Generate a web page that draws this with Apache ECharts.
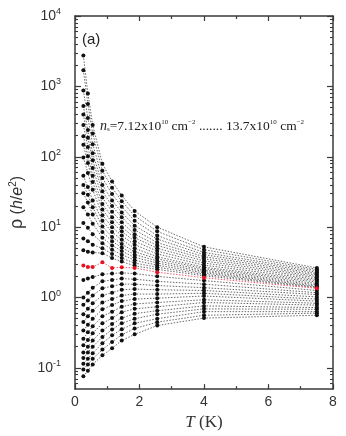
<!DOCTYPE html>
<html>
<head>
<meta charset="utf-8">
<script src="https://cdn.jsdelivr.net/npm/echarts@6/dist/echarts.min.js"></script>
<style>
html,body{margin:0;padding:0;background:#fff;}
#chart{width:346px;height:436px;}
</style>
</head>
<body>
<div id="chart"></div>
<script>
// Temperatures (K) of the measurement columns
const temps = [0.26, 0.4, 0.55, 0.85, 1.15, 1.45, 1.85, 2.55, 4.0, 7.5];

// Resistivity rho (h/e^2) of each density curve at the temperatures above (top = lowest n_s)
const rhoCurves = [
  [2750, 794, 282, 79.4, 44.7, 28.2, 17.0, 10.0, 5.25, 2.63],
  [1700, 562, 214, 63.1, 36.3, 23.4, 14.5, 8.71, 4.79, 2.51],
  [871, 355, 151, 50.1, 29.5, 19.5, 12.3, 7.59, 4.37, 2.40],
  [525, 240, 112, 39.8, 24.0, 16.2, 10.5, 6.76, 4.07, 2.29],
  [398, 186, 89.1, 32.4, 20.0, 13.8, 9.12, 6.03, 3.80, 2.19],
  [282, 138, 69.2, 26.3, 16.6, 11.7, 7.94, 5.50, 3.55, 2.09],
  [195, 102, 53.7, 21.4, 13.8, 10.0, 7.08, 5.01, 3.31, 2.00],
  [148, 81.3, 43.7, 17.8, 11.7, 8.71, 6.31, 4.57, 3.09, 1.91],
  [97.7, 58.9, 33.9, 14.8, 10.0, 7.59, 5.62, 4.17, 2.88, 1.82],
  [53.7, 37.2, 24.0, 12.3, 8.51, 6.61, 5.01, 3.80, 2.69, 1.74],
  [39.8, 28.8, 19.1, 10.2, 7.24, 5.75, 4.47, 3.55, 2.57, 1.66],
  [30.2, 22.4, 15.1, 8.51, 6.31, 5.13, 4.07, 3.31, 2.45, 1.58],
  [19.1, 15.1, 11.2, 7.08, 5.50, 4.57, 3.72, 3.09, 2.34, 1.51],
  [11.5, 9.77, 7.94, 5.89, 4.79, 4.07, 3.39, 2.88, 2.24, 1.45],
  [6.92, 6.31, 5.62, 5.01, 4.17, 3.63, 3.09, 2.69, 2.14, 1.41],
  [4.68, 4.47, 4.37, 4.27, 3.63, 3.24, 2.82, 2.51, 2.04, 1.38],
  [2.85, 2.72, 2.72, 3.16, 2.63, 2.69, 2.63, 2.29, 1.91, 1.35],
  [1.78, 1.86, 1.95, 2.14, 2.19, 2.24, 2.19, 2.00, 1.74, 1.26],
  [1.00, 1.17, 1.38, 1.70, 1.78, 1.86, 1.82, 1.70, 1.55, 1.17],
  [0.79, 0.91, 1.07, 1.35, 1.45, 1.55, 1.55, 1.48, 1.38, 1.10],
  [0.58, 0.69, 0.83, 1.07, 1.17, 1.29, 1.32, 1.29, 1.26, 1.02],
  [0.45, 0.54, 0.65, 0.85, 0.95, 1.07, 1.12, 1.12, 1.15, 0.95],
  [0.34, 0.41, 0.50, 0.68, 0.78, 0.89, 0.95, 0.98, 1.05, 0.89],
  [0.26, 0.32, 0.39, 0.54, 0.63, 0.74, 0.81, 0.85, 0.93, 0.83],
  [0.21, 0.25, 0.31, 0.43, 0.51, 0.62, 0.69, 0.74, 0.85, 0.78],
  [0.166, 0.20, 0.245, 0.34, 0.42, 0.51, 0.59, 0.65, 0.76, 0.72],
  [0.138, 0.166, 0.20, 0.275, 0.35, 0.43, 0.50, 0.58, 0.69, 0.68],
  [0.115, 0.135, 0.162, 0.224, 0.29, 0.355, 0.43, 0.50, 0.63, 0.63],
  [0.095, 0.112, 0.135, 0.182, 0.234, 0.295, 0.363, 0.447, 0.56, 0.60],
  [0.076, 0.091, 0.112, 0.151, 0.19, 0.245, 0.30, 0.40, 0.51, 0.56]
];
// index of the highlighted (red) curve
const redIndex = 16;

// Axis tick values
const yMajorTicks = [0.1, 1, 10, 100, 1000, 10000];
const yMinorTicks = [0.06, 0.07, 0.08, 0.09,
  0.2, 0.3, 0.4, 0.5, 0.6, 0.7, 0.8, 0.9,
  2, 3, 4, 5, 6, 7, 8, 9,
  20, 30, 40, 50, 60, 70, 80, 90,
  200, 300, 400, 500, 600, 700, 800, 900,
  2000, 3000, 4000, 5000, 6000, 7000, 8000, 9000];
const xTickLabels = [0, 2, 4, 6, 8];

const axisColor = '#3a3a3a';
const chart = echarts.init(document.getElementById('chart'), null, {renderer: 'canvas'});

function expLabel(v) {
  const e = Math.round(Math.log10(v));
  return '{b|10}{s|' + e + '}';
}

const series = rhoCurves.map((row, i) => {
  const isRed = i === redIndex;
  return {
    type: 'line',
    xAxisIndex: 0,
    yAxisIndex: 0,
    data: temps.map((t, j) => [t, row[j]]),
    symbol: 'circle',
    symbolSize: 4,
    showSymbol: true,
    silent: true,
    animation: false,
    z: isRed ? 5 : 2,
    lineStyle: {type: [1.5, 1.5], width: 1, color: isRed ? '#f0606a' : '#6a6a6a'},
    itemStyle: {color: isRed ? '#e8101e' : '#111', borderWidth: 0}
  };
});

const option = {
  animation: false,
  backgroundColor: '#fff',
  grid: {left: 68, right: 13, top: 16, bottom: 40, containLabel: false},
  xAxis: [
    {
      type: 'value', position: 'bottom', min: 0, max: 8, interval: 2,
      axisLine: {show: true, lineStyle: {color: axisColor, width: 1.5}},
      axisTick: {show: true, inside: true, length: 5, lineStyle: {color: axisColor, width: 1.2}},
      minorTick: {show: true, splitNumber: 2, length: 3, lineStyle: {color: axisColor, width: 1.2}},
      splitLine: {show: false},
      axisLabel: {
        customValues: xTickLabels,
        margin: 6, fontSize: 14, color: '#333', fontFamily: 'Liberation Sans'
      },
      name: '{i|T} (K)', nameLocation: 'middle', nameGap: 19,
      nameTextStyle: {
        fontFamily: 'Liberation Serif', fontSize: 17, color: '#333',
        rich: {i: {fontFamily: 'Liberation Serif', fontStyle: 'italic', fontSize: 17, color: '#333'}}
      }
    },
    {
      type: 'value', position: 'top', min: 0, max: 8, interval: 2,
      axisLine: {show: true, lineStyle: {color: axisColor, width: 1.5}},
      axisTick: {show: true, inside: true, length: 5, lineStyle: {color: axisColor, width: 1.2}},
      minorTick: {show: true, splitNumber: 2, length: 3, lineStyle: {color: axisColor, width: 1.2}},
      splitLine: {show: false},
      axisLabel: {show: false}
    }
  ],
  yAxis: [
    {
      type: 'log', logBase: 10, position: 'left', min: 0.05, max: 10000,
      axisLine: {show: true, lineStyle: {color: axisColor, width: 1.5}},
      axisTick: {show: true, inside: true, length: 6, customValues: yMajorTicks, lineStyle: {color: axisColor, width: 1.2}},
      splitLine: {show: false},
      axisLabel: {
        customValues: yMajorTicks, margin: 14, formatter: expLabel, color: '#333',
        rich: {
          b: {fontSize: 14, fontFamily: 'Liberation Sans', color: '#333'},
          s: {fontSize: 9, fontFamily: 'Liberation Sans', color: '#333', padding: [0, 0, 9, 0]}
        }
      },
      name: '{r|ρ} ({i|h}/{i|e}{sup|2})', nameLocation: 'middle', nameGap: 40, nameRotate: 90,
      nameTextStyle: {
        fontFamily: 'Liberation Sans', fontSize: 16, color: '#333',
        rich: {
          r: {fontFamily: 'Liberation Sans', fontSize: 18, color: '#333'},
          i: {fontFamily: 'Liberation Sans', fontStyle: 'italic', fontSize: 16, color: '#333'},
          sup: {fontFamily: 'Liberation Sans', fontSize: 10, color: '#333', padding: [0, 0, 9, 0]}
        }
      }
    },
    {
      type: 'log', logBase: 10, position: 'left', min: 0.05, max: 10000,
      axisLine: {show: false},
      axisTick: {show: true, inside: true, length: 3, customValues: yMinorTicks, lineStyle: {color: axisColor, width: 1.1}},
      splitLine: {show: false},
      axisLabel: {show: false}
    },
    {
      type: 'log', logBase: 10, position: 'right', min: 0.05, max: 10000,
      axisLine: {show: true, lineStyle: {color: axisColor, width: 1.5}},
      axisTick: {show: true, inside: true, length: 6, customValues: yMajorTicks, lineStyle: {color: axisColor, width: 1.2}},
      splitLine: {show: false},
      axisLabel: {show: false}
    },
    {
      type: 'log', logBase: 10, position: 'right', min: 0.05, max: 10000,
      axisLine: {show: false},
      axisTick: {show: true, inside: true, length: 3, customValues: yMinorTicks, lineStyle: {color: axisColor, width: 1.1}},
      splitLine: {show: false},
      axisLabel: {show: false}
    }
  ],
  graphic: [
    {
      type: 'text', left: 82, top: 32,
      style: {text: '(a)', fontSize: 15, fontFamily: 'Liberation Sans', fill: '#222'}
    },
    {
      type: 'text', left: 100, top: 119,
      style: {
        text: '{i|n}{sub|s}=7.12x10{sup|10} cm{sup|−2} ....... 13.7x10{sup|10} cm{sup|−2}',
        fontFamily: 'Liberation Serif', fontSize: 13.5, fill: '#222',
        rich: {
          i: {fontFamily: 'Liberation Serif', fontStyle: 'italic', fontSize: 14, fill: '#222'},
          sub: {fontFamily: 'Liberation Serif', fontSize: 7, fill: '#222', padding: [5, 0, 0, 0]},
          sup: {fontFamily: 'Liberation Serif', fontSize: 7, fill: '#222', padding: [0, 0, 8, 0]}
        }
      }
    }
  ],
  series: series
};
chart.setOption(option);
</script>
</body>
</html>
